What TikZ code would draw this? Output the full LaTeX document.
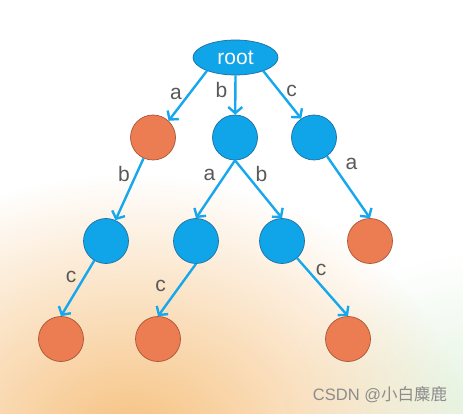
\documentclass[tikz,border=0pt]{standalone}
\usepackage{fontspec}
\setmainfont{Liberation Sans}
\newfontfamily\cjkfont{Noto Sans CJK SC}
\usetikzlibrary{arrows.meta,shapes.geometric,fadings}

\definecolor{nodeblue}{RGB}{16,164,232}
\definecolor{blueline}{RGB}{30,110,160}
\definecolor{arrowblue}{RGB}{22,167,236}
\definecolor{nodeorange}{RGB}{236,125,83}
\definecolor{orangeline}{RGB}{168,84,54}
\definecolor{labelgray}{RGB}{89,89,89}
\definecolor{bgorange}{RGB}{246,192,125}
\definecolor{bggreen}{RGB}{228,244,224}

\tikzfading[name=softglow, inner color=transparent!0, outer color=transparent!100]

\begin{document}
\begin{tikzpicture}[
  x=1pt, y=-1pt,
  font=\fontsize{21}{21}\selectfont,
  edge/.style={line width=2.4pt, draw=arrowblue,
    -{Straight Barb[length=6pt,width=14pt]}},
  inner/.style={circle, draw=blueline, fill=nodeblue, line width=0.7pt,
    minimum size=45pt, inner sep=0pt},
  leaf/.style={circle, draw=orangeline, fill=nodeorange, line width=0.7pt,
    minimum size=45pt, inner sep=0pt},
  rootnode/.style={ellipse, draw=blueline, fill=nodeblue, line width=0.7pt,
    minimum width=85pt, minimum height=35pt, inner sep=0pt, text=white},
  lbl/.style={text=labelgray, inner sep=0pt}
]

% ===================== background =====================
\useasboundingbox (0,0) rectangle (463,414);
\begin{scope}
  \clip (0,0) rectangle (463,414);
  \fill[white] (0,0) rectangle (463,414);
  \fill[bggreen, path fading=softglow] (485,405) ellipse (200 and 150);
  \fill[bgorange, path fading=softglow] (130,445) ellipse (340 and 270);
\end{scope}

% ===================== nodes =====================
\node[rootnode] (root) at (235.5,57.5) {root};

% level 1
\node[leaf]  (n1) at (153,137.5) {};   % orange
\node[inner] (n2) at (235,137.5) {};
\node[inner] (n3) at (314,137.5) {};

% level 2
\node[inner] (m1) at (106,241) {};
\node[inner] (m2) at (196,241) {};
\node[inner] (m3) at (282,241) {};
\node[leaf]  (m4) at (370,241) {};     % orange

% level 3
\node[leaf] (k1) at (61,339) {};
\node[leaf] (k2) at (158,339) {};
\node[leaf] (k3) at (348,339) {};

% ===================== edges =====================
\draw[edge] (root.205) -- (n1.47);
\draw[edge] (root.south) -- (n2);
\draw[edge] (root.-26) -- (n3.124);

\draw[edge] (n1) -- (m1);
\draw[edge] (n2.south) -- (m2.north);
\draw[edge] (n2.south) -- (m3.north);
\draw[edge] (n3) -- (m4.north);

\draw[edge] (m1) -- (k1.north);
\draw[edge] (m2.south) -- (k2.north);
\draw[edge] (m3) -- (k3.north);

% ===================== labels =====================
\node[lbl] (la1) at (176,93.5) {a};
\node[lbl] (lb1) at (221.5,89.5) {b};
\node[lbl] (lc1) at (291.5,91) {c};

\node[lbl] (lb2) at (124,173.5) {b};
\node[lbl] (la2) at (209.5,175) {a};
\node[lbl] (lb3) at (261.5,174) {b};
\node[lbl] (la3) at (351.5,163.5) {a};

\node[lbl] (lc2) at (71,277) {c};
\node[lbl] (lc3) at (160.5,286) {c};
\node[lbl] (lc4) at (321,270) {c};

% watermark
\node[text=gray!90, font=\fontsize{16.5}{16.5}\selectfont] (wm) at (380,395)
  {CSDN @{\cjkfont 小白麋鹿}};

\end{tikzpicture}
\end{document}
